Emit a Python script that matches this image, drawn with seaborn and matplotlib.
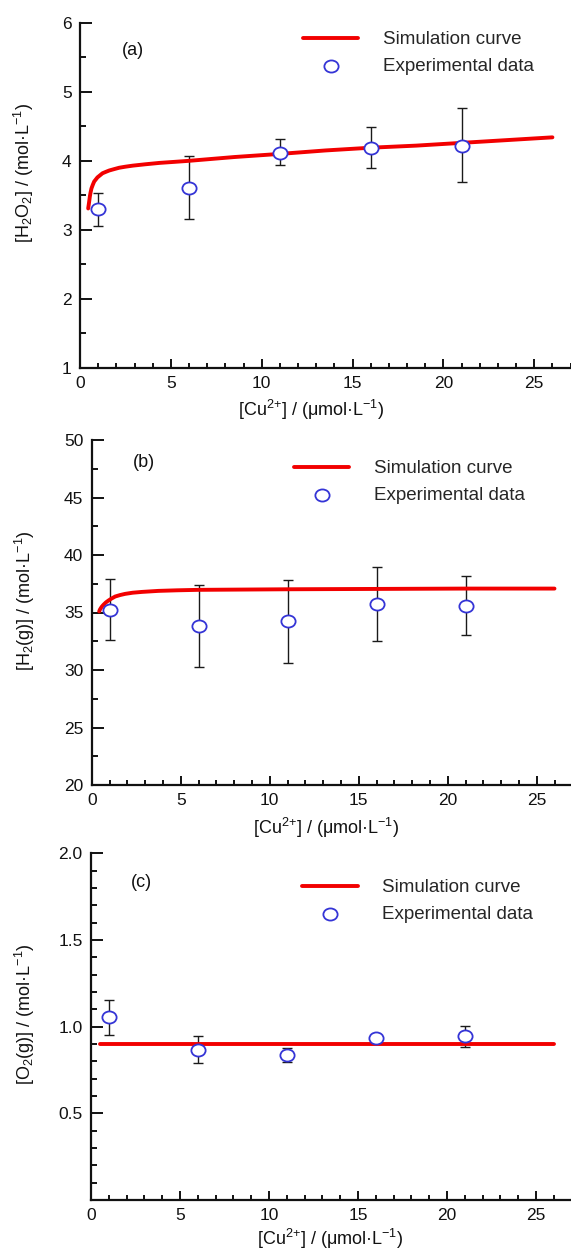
import numpy as np
import matplotlib
matplotlib.use("Agg")
import matplotlib.pyplot as plt
from matplotlib.ticker import MultipleLocator, FixedLocator, FormatStrFormatter
from matplotlib.path import Path
from matplotlib.transforms import Affine2D
import seaborn as sns

# Data
cu_exp = [1, 6, 11, 16, 21]

# (a) H2O2
h2o2_exp = [3.30, 3.61, 4.12, 4.19, 4.22]
h2o2_lo = [3.05, 3.16, 3.94, 3.89, 3.69]
h2o2_hi = [3.54, 4.07, 4.32, 4.49, 4.76]
cu_sim_a = [0.45, 0.50, 0.54, 0.58, 0.63, 0.70, 0.78, 0.87, 0.96, 1.10, 1.24, 1.42, 1.61,
            1.88, 2.16, 2.50, 2.90, 3.60, 4.38, 5.2, 6.0, 8.5, 11, 13.5, 16, 18.5, 21, 23.5, 26]
h2o2_sim = [3.31, 3.40, 3.48, 3.54, 3.60, 3.65, 3.70, 3.73, 3.76, 3.79, 3.82, 3.84, 3.86,
            3.88, 3.90, 3.915, 3.93, 3.95, 3.97, 3.985, 4.00, 4.055, 4.10, 4.15, 4.19, 4.22, 4.26, 4.30, 4.34]

# (b) H2(g)
h2_exp = [35.26, 33.79, 34.22, 35.72, 35.58]
h2_lo = [32.57, 30.24, 30.64, 32.55, 33.04]
h2_hi = [37.94, 37.40, 37.83, 38.95, 38.15]
cu_sim_b = [0.42, 0.46, 0.52, 0.58, 0.66, 0.80, 0.94, 1.10, 1.32, 1.60, 1.88, 2.30, 2.82, 3.75, 4.8, 6.0, 11, 16, 21, 26]
h2_sim = [35.09, 35.25, 35.40, 35.53, 35.67, 35.88, 36.04, 36.20, 36.39, 36.52, 36.62, 36.72, 36.79, 36.88, 36.93, 36.97, 37.02, 37.05, 37.08, 37.08]

# (c) O2(g)
o2_exp = [1.055, 0.866, 0.836, 0.937, 0.945]
o2_lo = [0.954, 0.790, 0.794, 0.922, 0.882]
o2_hi = [1.155, 0.945, 0.876, 0.954, 1.006]
cu_sim_c = [0.5, 26]
o2_sim = [0.90, 0.90]

sns.set_theme(style="ticks")
plt.rcParams["font.family"] = ["Liberation Sans", "DejaVu Sans"]
plt.rcParams["mathtext.fontset"] = "custom"
plt.rcParams["mathtext.rm"] = "Liberation Sans"
plt.rcParams["mathtext.it"] = "Liberation Sans:italic"
plt.rcParams["mathtext.default"] = "regular"

RED = "#f20000"
BLUE = "#3434d6"
xlab = r"[Cu$^{2{+}}$] / (μmol·L$^{-1}$)"

# slightly flattened circle, like the original markers
ellipse = Path.unit_circle().transformed(Affine2D().scale(1.0, 0.85))

W, H = 571, 1252
fig = plt.figure(figsize=(W / 100, H / 100), dpi=100)

panels = [
    # left px, top px, bottom px, px per x unit, data...
    dict(left=80, top=22.7, bottom=368, xs=18.17, ylim=(1, 6), ymaj=[1, 2, 3, 4, 5, 6], ymin=0.5, fmt="%d",
         y=h2o2_exp, lo=h2o2_lo, hi=h2o2_hi, sx=cu_sim_a, sy=h2o2_sim, tag="(a)",
         ylab=r"[H$_2$O$_2$] / (mol·L$^{-1}$)", tagpos=(0.108, 0.919), leg=(0.454, 0.975),
         xl=(0.470, -0.088), yl=(-0.089, 0.566)),
    dict(left=91.7, top=440, bottom=785, xs=17.8, ylim=(20, 50), ymaj=[20, 25, 30, 35, 40, 45, 50], ymin=2.5, fmt="%d",
         y=h2_exp, lo=h2_lo, hi=h2_hi, sx=cu_sim_b, sy=h2_sim, tag="(b)",
         ylab=r"[H$_2$(g)] / (mol·L$^{-1}$)", tagpos=(0.110, 0.934), leg=(0.422, 0.941),
         xl=(0.489, -0.091), yl=(-0.114, 0.534)),
    dict(left=91, top=853.3, bottom=1200, xs=17.8, ylim=(0, 2), ymaj=[0.5, 1.0, 1.5, 2.0], ymin=0.1, fmt="%.1f",
         y=o2_exp, lo=o2_lo, hi=o2_hi, sx=cu_sim_c, sy=o2_sim, tag="(c)",
         ylab=r"[O$_2$(g)] / (mol·L$^{-1}$)", tagpos=(0.105, 0.915), leg=(0.440, 0.925),
         xl=(0.498, -0.079), yl=(-0.1125, 0.536)),
]

for p in panels:
    ax = fig.add_axes([p["left"] / W, (H - p["bottom"]) / H, (W - p["left"]) / W, (p["bottom"] - p["top"]) / H])

    y = np.array(p["y"])
    yerr = [y - np.array(p["lo"]), np.array(p["hi"]) - y]
    ax.errorbar(cu_exp, y, yerr=yerr, fmt="none", ecolor="#1a1a1a", elinewidth=1.0,
                capsize=3.8, capthick=1.0, zorder=2)
    sns.lineplot(x=p["sx"], y=p["sy"], ax=ax, color=RED, lw=2.8, label="Simulation curve", zorder=3)
    sns.scatterplot(x=cu_exp, y=p["y"], ax=ax, marker=ellipse, s=105, color="white",
                    edgecolor=BLUE, linewidth=1.3, label="Experimental data", zorder=4)

    ax.set_xlim(0, (W - p["left"]) / p["xs"])
    ax.set_ylim(*p["ylim"])
    ax.xaxis.set_major_locator(MultipleLocator(5))
    ax.xaxis.set_minor_locator(MultipleLocator(1))
    ax.yaxis.set_major_locator(FixedLocator(p["ymaj"]))
    ax.yaxis.set_minor_locator(MultipleLocator(p["ymin"]))
    ax.yaxis.set_major_formatter(FormatStrFormatter(p["fmt"]))

    sns.despine(ax=ax)
    for s in ["left", "bottom"]:
        ax.spines[s].set_linewidth(1.6)
        ax.spines[s].set_color("#111111")
    ax.tick_params(axis="both", which="both", direction="in", width=1.4, color="#111111",
                   labelsize=12.5, pad=6, labelcolor="#111111")
    ax.tick_params(axis="x", which="major", length=6.5)
    ax.tick_params(axis="x", which="minor", length=3.5)
    ax.tick_params(axis="y", which="major", length=8.5)
    ax.tick_params(axis="y", which="minor", length=4.5)

    ax.set_xlabel(xlab, fontsize=13, color="#111111")
    ax.set_ylabel(p["ylab"], fontsize=13, color="#111111")
    ax.xaxis.set_label_coords(*p["xl"])
    ax.yaxis.set_label_coords(*p["yl"])

    ax.text(*p["tagpos"], p["tag"], transform=ax.transAxes, fontsize=13,
            ha="center", va="center", color="#111111")

    ax.legend(loc="upper left", bbox_to_anchor=p["leg"], frameon=False, fontsize=13.5,
              borderpad=0, borderaxespad=0, handlelength=2.95, handletextpad=1.3,
              labelspacing=0.5, scatterpoints=1)

fig.savefig("out.png", dpi=100)
